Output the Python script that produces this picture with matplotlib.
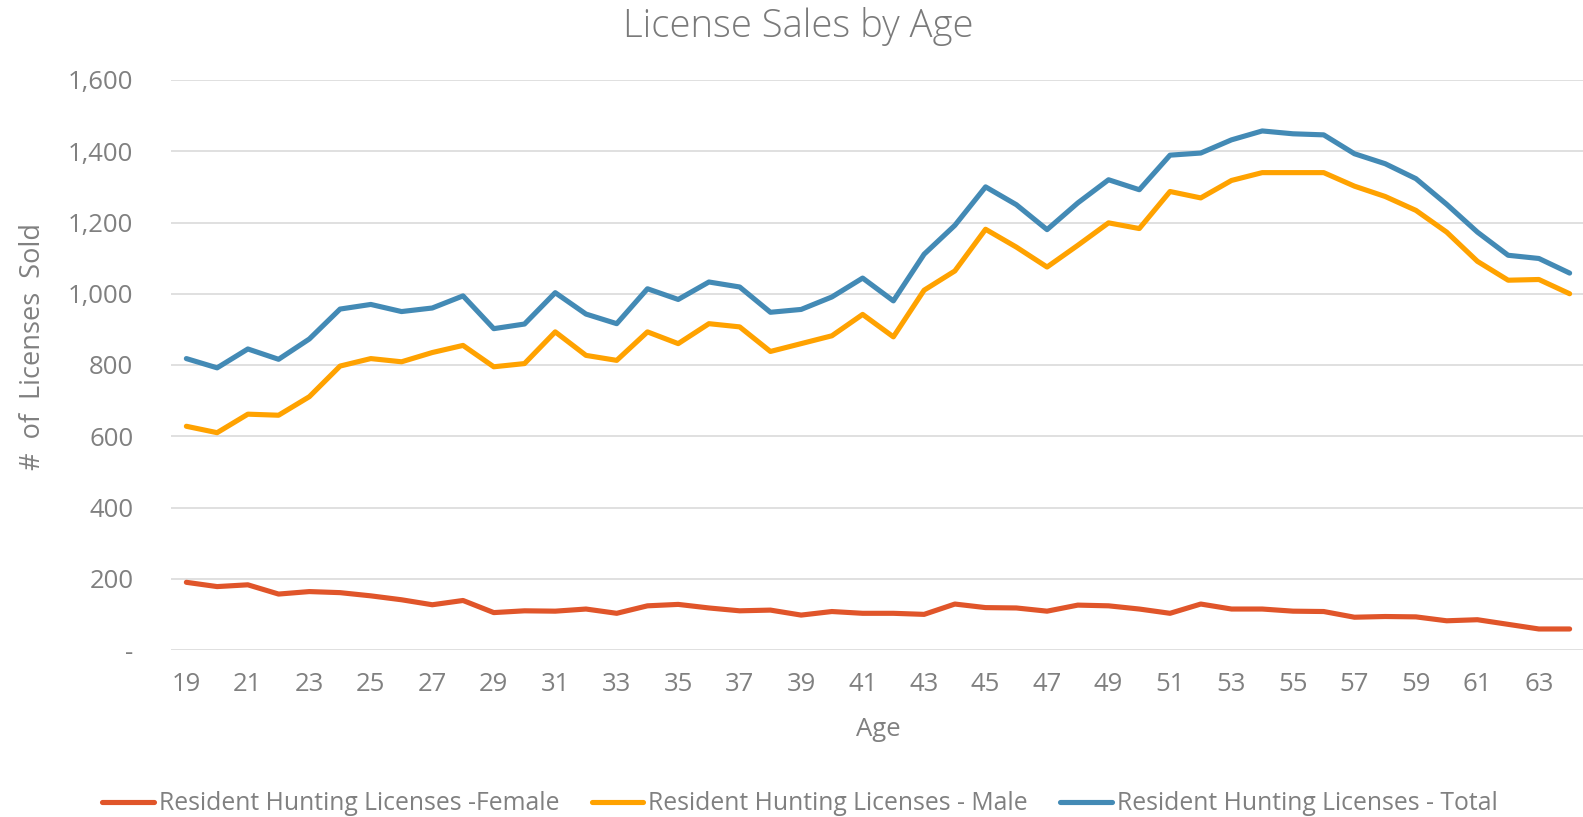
import matplotlib
matplotlib.use("Agg")
import matplotlib.pyplot as plt
from matplotlib.ticker import FuncFormatter, MultipleLocator

ages = list(range(19, 65))
female = [190, 178, 183, 157, 164, 161, 152, 141, 127, 139, 105, 110, 109, 115, 103, 124,
          128, 118, 110, 112, 98, 108, 103, 103, 100, 129, 119, 118, 109, 126, 124, 115,
          103, 129, 115, 115, 109, 108, 92, 94, 93, 82, 85, 72, 59, 59]
male = [628, 610, 662, 659, 711, 797, 818, 809, 835, 855, 795, 804, 893, 827, 813, 893,
        860, 916, 907, 838, 860, 882, 942, 879, 1010, 1064, 1181, 1131, 1075, 1136, 1199, 1183,
        1287, 1269, 1318, 1340, 1340, 1340, 1302, 1273, 1234, 1173, 1091, 1038, 1040, 1000]
total = [818, 792, 845, 816, 873, 957, 970, 950, 960, 994, 902, 915, 1003, 943, 916, 1014,
         984, 1033, 1019, 948, 956, 991, 1044, 980, 1111, 1192, 1300, 1250, 1180, 1255, 1320, 1292,
         1389, 1395, 1432, 1457, 1449, 1446, 1393, 1365, 1323, 1251, 1173, 1108, 1099, 1058]
series_names = ["Resident Hunting Licenses -Female",
                "Resident Hunting Licenses - Male",
                "Resident Hunting Licenses - Total"]
colors = ["#E0552A", "#FFA200", "#438AB5"]
x_ticks = list(range(19, 65, 2))

plt.rcParams['font.family'] = ['Open Sans', 'DejaVu Sans']
TXT = "#808080"

W, H = 1583, 817
fig = plt.figure(figsize=(W / 100, H / 100), dpi=100)
left, right, top, bottom = 171, 1585, 80, 650
ax = fig.add_axes([left / W, 1 - bottom / H, (right - left) / W, (bottom - top) / H])

for vals, c, name in zip([female, male, total], colors, series_names):
    ax.plot(ages, vals, color=c, lw=3.7, solid_capstyle='round', solid_joinstyle='round',
            label=name, zorder=3)

ax.set_xlim(18.5, 64.5)
ax.set_ylim(0, 1600)
ax.yaxis.set_major_locator(MultipleLocator(200))
ax.yaxis.set_major_formatter(FuncFormatter(lambda v, p: "-" if v == 0 else f"{int(v):,}"))
ax.set_xticks(x_ticks)
ax.grid(axis='y', color='#E0E0E0', lw=1.4, zorder=0)
for s in ax.spines.values():
    s.set_visible(False)
ax.tick_params(axis='both', length=0, colors=TXT, labelsize=18.5)
ax.tick_params(axis='y', pad=27)
ax.tick_params(axis='x', pad=16)

fig.text(798 / W, 1 - 27 / H, "License Sales by Age", ha='center', va='center',
         fontsize=27.5, color="#7a7a7a", fontweight='light')
fig.text(878 / W, 1 - 729 / H, "Age", ha='center', va='center', fontsize=18.5, color=TXT)
fig.text(33 / W, 1 - 346 / H, "#  of  Licenses  Sold", ha='center', va='center', rotation=90,
         fontsize=19.5, color=TXT)

fig.legend(loc='center', bbox_to_anchor=(800 / W, 1 - 804 / H), ncol=3, frameon=False,
           fontsize=17.8, labelcolor=TXT, handlelength=2.1, handletextpad=0.2,
           columnspacing=1.3)

fig.savefig("out.png", dpi=100)
